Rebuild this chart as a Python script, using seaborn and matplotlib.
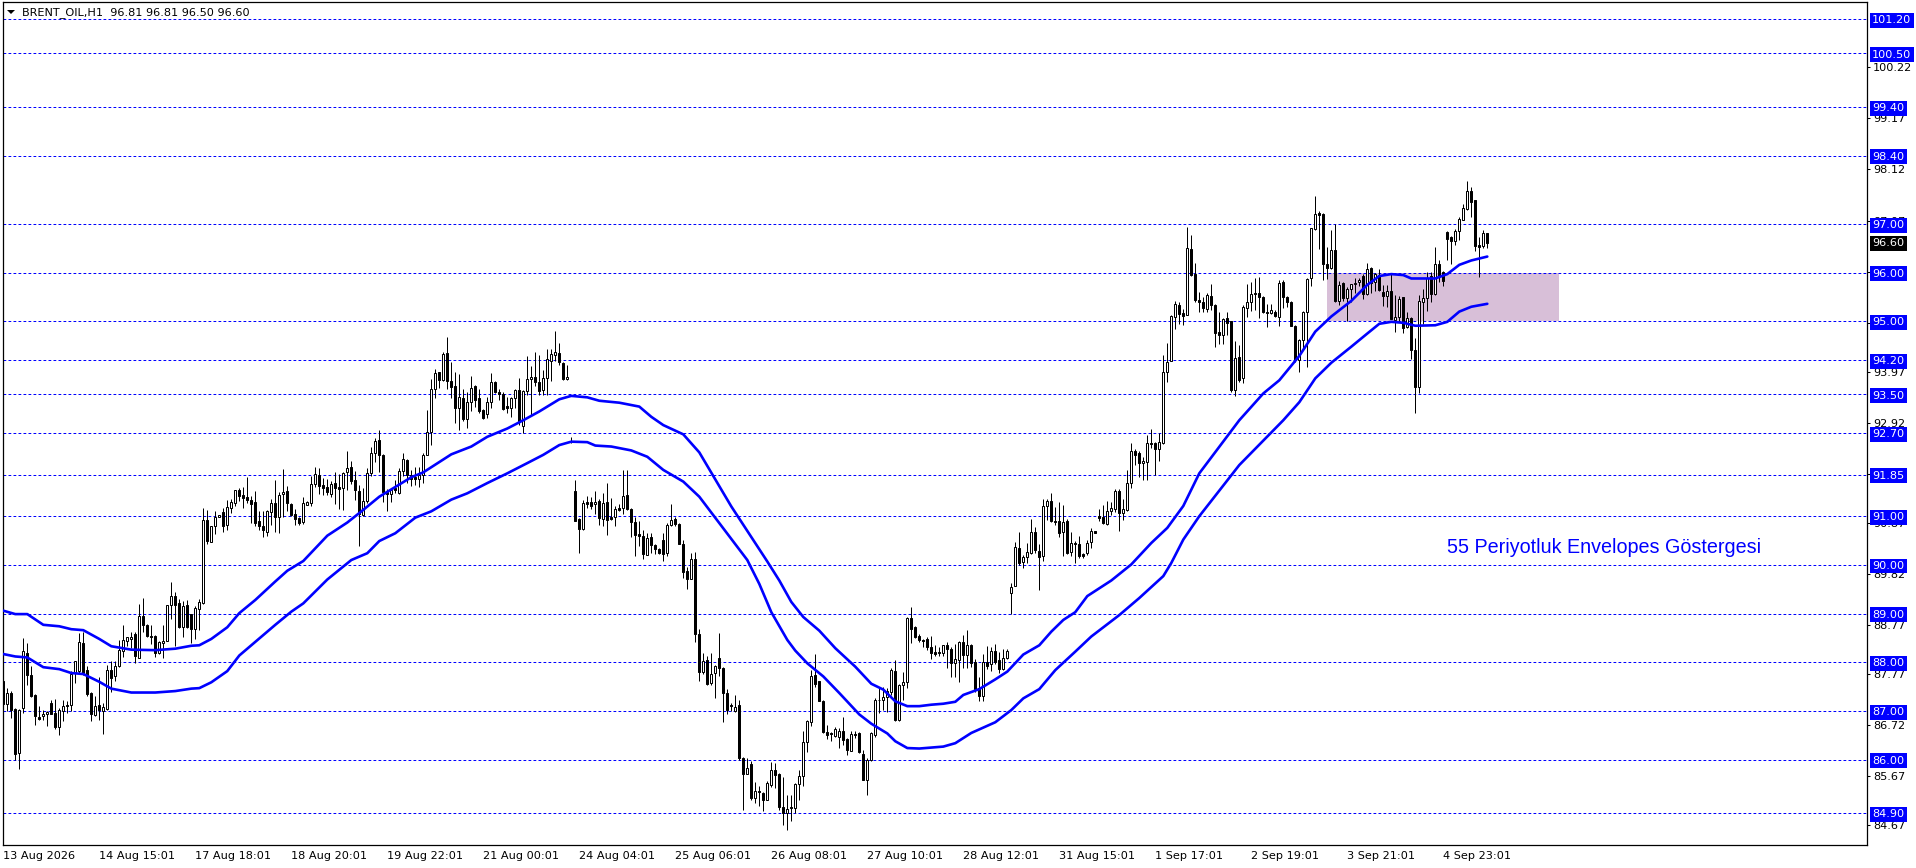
import matplotlib
matplotlib.use("Agg")
import matplotlib.pyplot as plt
from matplotlib.patches import Polygon
from matplotlib.transforms import IdentityTransform
import numpy as np
import pandas as pd
import seaborn as sns

opens = [
87.61,87.15,87.37,87.05,86.14,87.07,88.2,87.73,87.32,86.87,
86.89,86.93,87.17,86.96,86.68,87.0,87.12,87.12,87.78,87.82,
88.4,87.84,87.37,86.91,87.12,87.01,87.05,87.84,87.71,87.92,
88.24,88.43,88.48,88.58,88.09,88.96,88.77,88.55,88.55,88.2,
88.4,88.44,89.17,89.37,89.21,88.72,89.17,88.99,88.69,89.09,
89.22,90.92,90.48,90.79,90.98,91.08,90.82,91.16,91.27,91.53,
91.43,91.39,91.33,91.29,90.9,90.79,90.68,91.08,91.27,90.98,
91.45,91.51,91.25,91.04,90.96,90.89,91.24,91.27,91.67,91.84,
91.64,91.6,91.46,91.68,91.6,91.58,91.9,92.01,91.74,91.52,
91.03,91.31,91.88,92.29,92.57,92.26,91.5,91.45,91.58,91.47,
91.92,92.16,91.85,91.8,91.77,91.85,92.26,92.72,93.62,93.96,
93.79,94.36,93.77,93.67,93.23,93.43,92.99,93.34,93.67,93.42,
93.18,93.1,93.34,93.75,93.55,93.51,93.26,93.23,93.43,93.59,
92.86,93.58,93.82,93.85,93.75,93.59,93.83,94.19,94.3,94.36,
94.15,93.81,92.55,91.52,90.95,90.74,91.29,91.29,91.25,91.32,
90.95,91.29,90.98,90.98,91.17,91.16,91.44,91.15,90.88,90.64,
90.6,90.21,90.57,90.41,90.32,90.51,90.24,90.81,90.95,90.84,
90.43,89.88,89.72,90.12,88.59,87.8,88.04,87.58,87.78,88.08,
87.88,87.36,87.12,87.01,87.13,86.03,85.71,85.91,85.21,85.36,
85.32,85.17,85.49,85.78,85.71,85.03,84.9,85.02,85.01,85.51,
85.66,86.37,86.78,87.74,87.61,87.2,86.56,86.54,86.49,86.46,
86.6,86.42,86.18,86.52,86.55,86.11,85.58,86.0,86.5,87.22,
87.22,87.28,87.4,87.83,86.81,87.53,87.59,88.91,88.72,88.55,
88.46,88.48,88.32,88.21,88.21,88.19,88.35,88.27,87.98,88.04,
88.41,88.15,88.36,88.0,87.48,87.3,88.0,87.97,88.24,88.04,
87.87,88.08,89.42,89.56,90.35,90.05,90.16,90.25,90.68,90.29,
90.18,91.2,91.32,90.91,90.91,90.67,90.91,90.26,90.45,90.43,
90.23,90.25,90.47,90.7,91.0,90.99,90.84,91.1,91.15,91.51,
91.07,91.12,91.68,92.33,92.29,92.09,92.12,92.5,92.5,92.38,
92.5,93.97,94.19,95.08,95.34,95.18,95.14,96.48,95.97,95.43,
95.4,95.26,95.52,95.34,94.78,94.73,95.06,95.01,93.59,94.26,
93.83,95.27,95.39,95.58,95.58,95.49,95.2,95.18,95.2,95.08,
95.8,95.5,95.4,94.9,94.2,94.62,95.19,95.9,96.9,97.22,
97.21,96.18,96.1,96.46,95.41,95.78,95.47,95.67,95.76,95.8,
95.93,95.57,96.1,95.8,95.96,95.61,95.52,95.63,95.03,95.08,
95.49,94.88,95.06,94.42,93.66,95.4,95.47,95.93,95.57,96.17,
96.01,96.84,96.73,96.65,96.85,97.09,97.3,97.68,97.5,96.56,96.55,96.81]

highs = [
87.78,87.47,87.41,87.06,87.05,88.5,88.4,87.92,87.34,87.1,
87.03,87.0,87.22,87.24,87.06,87.22,87.2,87.82,88.03,88.6,
88.62,87.92,87.39,87.3,87.69,87.17,87.94,88.03,88.02,88.46,
88.76,88.53,88.63,88.63,89.19,89.33,88.78,88.76,88.57,88.44,
88.77,89.18,89.64,89.44,89.3,89.25,89.28,89.0,89.15,89.29,
91.16,91.13,90.8,91.1,91.03,91.16,91.34,91.36,91.54,91.58,
91.6,91.81,91.42,91.52,91.1,91.11,91.12,91.35,91.75,91.49,
91.97,91.62,91.27,91.14,90.99,91.39,91.32,91.82,92.01,91.99,
91.78,91.77,91.72,91.9,91.86,91.9,92.34,92.14,91.92,91.64,
91.58,91.99,92.43,92.6,92.77,92.27,91.55,91.58,91.75,91.99,
92.29,92.17,91.95,92.02,92.02,92.29,93.18,93.81,94.03,93.96,
94.37,94.67,94.17,93.96,93.91,93.62,93.55,93.88,93.69,93.62,
93.21,93.44,93.94,93.77,93.62,93.55,93.44,93.45,93.62,93.83,
93.59,94.28,94.09,94.38,94.31,94.0,94.43,94.44,94.8,94.56,
94.16,94.1,92.62,91.75,90.96,91.34,91.42,91.4,91.51,91.35,
91.47,91.68,91.37,91.21,91.25,91.94,91.95,91.16,90.99,90.9,
90.72,90.66,90.66,90.43,90.34,90.65,90.86,91.25,90.99,90.86,
90.51,89.95,90.24,90.26,88.69,88.2,88.14,88.19,87.95,88.6,
87.9,87.46,87.16,87.33,87.23,86.05,86.04,85.98,85.55,85.46,
85.34,85.57,85.95,85.93,85.73,85.64,85.27,85.27,85.52,85.78,
86.58,86.82,87.84,88.18,87.62,87.23,86.71,86.56,86.68,86.65,
86.87,86.45,86.58,86.58,86.57,86.19,86.03,86.57,87.26,87.47,
87.5,87.47,87.88,88.05,87.56,87.8,88.93,89.13,88.74,88.58,
88.47,88.53,88.54,88.36,88.32,88.36,88.42,88.32,88.38,88.43,
88.56,88.67,88.37,88.07,87.69,88.17,88.34,88.31,88.38,88.22,
88.27,88.28,89.62,90.47,90.68,90.21,90.44,90.95,90.78,90.42,
91.36,91.36,91.48,91.19,91.29,91.23,90.95,90.68,90.49,90.6,
90.25,90.52,90.76,90.7,91.14,91.23,91.32,91.29,91.55,91.56,
91.36,91.94,92.5,92.37,92.33,92.22,92.67,92.8,92.52,92.7,
94.31,94.55,95.13,95.41,95.39,95.26,96.94,96.78,96.2,95.6,
95.49,95.58,95.77,95.36,95.2,95.06,95.2,95.01,94.6,94.51,
95.33,95.77,95.81,95.88,95.91,95.52,95.36,95.35,95.24,95.85,
95.85,95.52,95.42,94.92,94.63,95.22,95.9,96.92,97.58,97.26,
97.22,96.53,96.88,97.0,95.82,95.81,95.7,95.77,95.89,95.89,
95.97,96.19,96.12,96.0,96.07,95.75,95.74,95.97,95.54,95.53,
95.51,95.2,95.08,94.65,95.54,95.66,96.01,96.02,96.52,96.26,
96.03,96.86,96.75,96.89,97.14,97.4,97.89,97.75,97.5,96.73,96.87,96.81]

lows = [
87.0,87.0,86.85,86.0,85.82,86.96,87.54,87.28,86.72,86.82,
86.82,86.7,86.93,86.64,86.5,86.79,86.95,87.0,87.58,87.76,
87.73,87.3,86.8,86.9,86.81,86.52,87.03,87.39,87.62,87.9,
88.1,88.33,88.29,87.99,88.08,88.63,88.53,88.38,88.1,88.17,
88.08,88.43,88.89,88.33,88.7,88.51,88.7,88.4,88.48,88.67,
89.2,90.43,90.48,90.64,90.98,90.68,90.72,91.06,91.2,91.32,
91.16,91.28,90.87,90.79,90.71,90.58,90.6,90.82,90.68,90.66,
90.99,91.1,91.01,90.81,90.82,90.84,91.22,91.2,91.59,91.46,
91.44,91.44,91.4,91.25,91.15,91.13,91.53,91.66,91.34,90.38,
91.01,91.27,91.82,92.12,91.9,91.3,91.1,91.3,91.47,91.46,
91.82,91.68,91.62,91.64,91.6,91.69,92.26,92.46,93.42,93.64,
93.78,93.62,93.42,92.91,92.77,92.95,92.81,93.15,93.25,93.12,
92.99,93.02,93.23,93.53,93.38,93.19,93.11,93.04,93.23,92.87,
92.7,93.49,93.08,93.67,93.49,93.49,93.49,93.78,94.19,94.11,
93.79,93.8,92.5,90.91,90.25,90.72,91.16,91.14,91.05,90.82,
90.79,90.62,90.92,90.79,91.1,91.05,91.13,90.58,90.19,90.38,
90.12,90.2,90.24,90.22,90.22,90.09,90.18,90.8,90.79,90.43,
89.73,89.5,89.72,88.42,87.62,87.77,87.54,87.54,87.26,87.71,
86.78,86.94,87.01,86.97,86.0,84.97,85.7,85.17,85.12,85.06,
84.95,85.17,85.45,85.41,84.97,84.66,84.56,84.74,84.9,85.18,
85.47,86.16,86.7,87.49,87.2,86.54,86.42,86.39,86.46,86.25,
86.3,86.09,86.17,86.45,86.13,85.58,85.28,85.97,86.46,86.96,
87.03,86.97,87.33,86.79,86.8,87.23,87.47,88.4,88.5,88.42,
88.32,88.26,88.06,88.12,88.12,88.12,87.89,87.69,87.69,87.59,
87.89,87.88,87.9,87.39,87.21,87.21,87.86,87.83,87.97,87.78,
87.85,88.06,88.99,89.56,89.99,89.93,90.04,90.23,90.25,89.49,
90.09,90.92,90.88,90.81,90.58,90.18,90.23,90.18,90.03,90.14,
90.14,90.21,90.35,90.66,90.91,90.83,90.82,91.03,91.08,90.69,
90.92,91.11,91.58,92.05,91.81,91.74,91.74,92.39,91.85,92.13,
92.49,93.76,94.18,94.84,94.94,94.92,95.14,95.93,95.4,95.2,
95.19,95.2,95.24,94.48,94.53,94.53,94.73,93.54,93.47,93.76,
93.74,95.08,95.22,95.24,95.07,95.17,94.89,95.16,95.08,94.9,
95.27,95.3,94.9,94.17,93.97,94.41,94.07,95.73,96.88,96.48,
95.85,95.87,96.08,95.4,95.34,95.41,95.0,95.39,95.58,95.72,
95.45,95.55,95.58,95.62,95.62,95.32,95.3,95.05,94.79,94.99,
94.77,94.87,94.22,93.11,93.53,94.95,95.22,95.39,95.55,95.8,
95.73,96.26,96.18,96.57,96.68,97.09,97.28,97.14,96.44,95.91,96.51,96.5]

closes = [
87.15,87.37,87.03,86.11,87.03,88.23,87.73,87.3,86.9,86.84,
86.93,86.98,86.94,86.67,87.03,87.1,87.1,87.76,88.02,88.41,
87.78,87.35,86.93,87.1,87.03,87.08,87.84,87.68,87.92,88.25,
88.46,88.51,88.53,88.12,88.96,88.77,88.54,88.52,88.2,88.42,
88.44,89.17,89.37,89.18,88.72,89.15,88.72,88.68,89.11,89.24,
90.92,90.5,90.8,90.99,91.03,90.79,91.18,91.29,91.53,91.42,
91.38,91.34,91.26,90.87,90.79,90.71,91.1,91.27,90.98,91.44,
91.49,91.27,91.03,90.94,90.87,91.27,91.29,91.66,91.86,91.61,
91.57,91.49,91.66,91.57,91.55,91.88,91.99,91.73,91.53,91.05,
91.31,91.88,92.29,92.54,92.25,91.49,91.45,91.54,91.53,91.92,
92.17,91.85,91.76,91.76,91.85,92.26,92.72,93.62,93.93,93.79,
94.34,93.77,93.66,93.23,93.44,93.0,93.34,93.64,93.38,93.15,
93.01,93.34,93.75,93.55,93.51,93.21,93.22,93.42,93.6,92.94,
93.58,93.81,93.86,93.76,93.57,93.83,94.22,94.32,94.38,94.16,
93.81,93.86,92.53,90.91,90.74,91.27,91.25,91.21,91.29,90.96,
91.28,90.92,90.95,91.15,91.13,91.42,91.14,90.88,90.62,90.6,
90.22,90.55,90.41,90.32,90.24,90.23,90.82,90.92,90.84,90.43,
89.85,89.72,90.12,88.59,87.8,88.03,87.56,87.76,87.92,87.88,
87.36,87.02,87.1,87.09,86.03,85.71,85.83,85.22,85.36,85.34,
85.17,85.52,85.79,85.69,85.03,84.9,84.99,85.01,85.51,85.67,
86.37,86.8,87.72,87.56,87.2,86.56,86.51,86.53,86.63,86.6,
86.4,86.2,86.52,86.5,86.15,85.58,86.0,86.55,87.22,87.23,
87.28,87.42,87.85,86.81,87.53,87.59,88.9,88.69,88.52,88.45,
88.43,88.32,88.2,88.18,88.19,88.35,88.28,87.98,88.06,88.41,
88.15,88.36,87.98,87.46,87.3,88.0,87.93,88.24,88.0,87.87,
88.08,88.23,89.55,90.37,90.04,90.16,90.26,90.68,90.3,90.16,
91.21,91.31,90.9,90.88,90.66,90.89,90.25,90.45,90.43,90.18,
90.19,90.45,90.7,90.66,90.96,90.85,91.11,91.17,91.52,91.07,
91.15,91.68,92.33,92.25,92.09,92.13,92.5,92.48,92.37,92.53,
93.97,94.17,95.11,95.35,95.16,95.11,96.5,95.95,95.44,95.4,
95.27,95.54,95.33,94.77,94.73,95.04,94.97,93.59,94.24,93.8,
95.3,95.39,95.56,95.56,95.5,95.19,95.17,95.23,95.1,95.78,
95.51,95.39,94.91,94.2,94.62,95.2,95.87,96.92,97.21,97.18,
96.17,96.1,96.46,95.42,95.75,95.48,95.67,95.76,95.79,95.85,
95.57,96.08,95.78,95.98,95.65,95.53,95.63,95.05,95.08,95.46,
94.87,95.06,94.42,93.66,95.42,95.47,95.9,95.56,96.17,95.93,
95.82,96.7,96.64,96.85,97.1,97.33,97.67,97.46,96.55,96.53,96.82,96.6]

upper_bars = [0,3,6,10,14,17,20,24,27,32,38,43,47,49,52,56,59,63,68,71,75,81,86,90,94,98,102,105,112,117,121,126,130,134,139,142,146,149,154,159,162,165,170,174,182,191,194,197,200,204,208,213,217,220,223,226,229,232,235,238,240,244,248,251,255,259,262,265,268,271,277,282,287,291,295,299,309,315,319,324,328,332,337,341,344,347,350,352,358,361,364,367,371]
upper_vals = [89.06,88.99,88.99,88.77,88.74,88.68,88.66,88.48,88.33,88.26,88.25,88.28,88.34,88.35,88.48,88.72,89.01,89.28,89.66,89.88,90.08,90.6,90.87,91.13,91.4,91.6,91.8,91.9,92.27,92.43,92.63,92.8,92.97,93.15,93.4,93.47,93.44,93.37,93.33,93.25,93.04,92.87,92.68,92.31,91.2,90.07,89.68,89.24,88.93,88.65,88.29,87.91,87.56,87.44,87.2,87.1,87.1,87.13,87.15,87.19,87.33,87.45,87.65,87.81,88.16,88.35,88.63,88.87,89.03,89.36,89.68,90.01,90.45,90.76,91.21,91.88,92.97,93.52,93.79,94.29,94.79,95.1,95.42,95.75,95.93,95.97,95.95,95.88,95.88,95.97,96.16,96.25,96.33]
lower_bars = [0,3,6,10,14,17,20,24,27,32,38,43,47,49,52,56,59,63,68,72,75,81,87,91,94,98,103,107,112,116,121,126,131,135,139,142,146,148,152,157,161,165,170,174,180,186,189,192,196,198,201,205,209,214,217,221,223,226,229,235,238,242,248,252,255,259,263,268,272,279,284,290,292,295,299,309,320,324,328,332,337,341,344,347,350,353,358,361,364,367,371]
lower_vals = [88.17,88.12,88.1,87.9,87.86,87.78,87.76,87.6,87.46,87.38,87.38,87.41,87.46,87.47,87.59,87.82,88.14,88.42,88.77,89.04,89.21,89.7,90.1,90.24,90.49,90.65,90.97,91.1,91.34,91.47,91.68,91.88,92.09,92.26,92.46,92.53,92.52,92.45,92.43,92.35,92.22,91.95,91.71,91.4,90.75,90.1,89.61,89.03,88.46,88.24,87.98,87.71,87.37,86.93,86.74,86.54,86.38,86.24,86.23,86.27,86.34,86.55,86.77,87.02,87.26,87.45,87.84,88.22,88.53,88.97,89.32,89.77,90.04,90.52,91.0,92.05,92.97,93.34,93.83,94.15,94.48,94.75,94.95,94.99,94.97,94.91,94.92,94.99,95.2,95.3,95.36]

level_lines = [101.20,100.50,99.40,98.40,97.00,96.00,95.00,94.20,93.50,92.70,91.85,91.00,90.00,89.00,88.00,87.00,86.00,84.90]
axis_ticks = [100.22,99.17,98.12,97.07,96.02,94.97,93.97,92.92,91.87,90.87,89.82,88.77,87.77,86.72,85.67,84.67]
time_labels = ["13 Aug 2026","14 Aug 15:01","17 Aug 18:01","18 Aug 20:01","19 Aug 22:01","21 Aug 00:01","24 Aug 04:01","25 Aug 06:01","26 Aug 08:01","27 Aug 10:01","28 Aug 12:01","31 Aug 15:01","1 Sep 17:01","2 Sep 19:01","3 Sep 21:01","4 Sep 23:01"]
time_bars = [i * 24 for i in range(len(time_labels))]
last_price = 96.60
zone_low, zone_high = 95.0, 96.0
zone_bars = (331, 389)
title = "BRENT_OIL,H1  96.81 96.81 96.50 96.60"
note = "55 Periyotluk Envelopes Göstergesi"

W, H = 1916, 868
sns.set_theme(style="white")
plt.rcParams["font.family"] = ["DejaVu Sans"]
plt.rcParams["lines.scale_dashes"] = False
fig = plt.figure(figsize=(W / 100, H / 100), dpi=100, facecolor="white")
ax = fig.add_axes([2.5 / W, (H - 844.5) / H, (1866.7 - 2.5) / W, (844.5 - 2.3) / H])
ax.set_xlim(-0.2, 465.85)
ax.set_ylim(84.26, 101.55)

o, h, l, c = map(np.array, (opens, highs, lows, closes))
x = np.arange(len(o))

ax.axhspan(zone_low, zone_high, xmin=(zone_bars[0] + 0.2) / 466.05, xmax=(zone_bars[1] + 0.2) / 466.05,
           facecolor="#D8BFD8", edgecolor="none", zorder=0.5)
for lv in level_lines:
    ax.axhline(lv, color="#0000FF", lw=0.72, ls=(0, (2.0, 1.6)), zorder=1)

ax.vlines(x, l, h, color="black", lw=0.72, zorder=2)
up = c >= o
ax.bar(x[up], (c - o)[up], bottom=o[up], width=0.5, facecolor="white", edgecolor="black", lw=0.72, zorder=3)
ax.bar(x[~up], (c - o)[~up], bottom=o[~up], width=0.5, facecolor="black", edgecolor="black", lw=0.72, zorder=3)

env_up = pd.DataFrame({"bar": upper_bars, "price": upper_vals})
env_lo = pd.DataFrame({"bar": lower_bars, "price": lower_vals})
sns.lineplot(data=env_up, x="bar", y="price", color="#0000FF", lw=1.9, ax=ax, zorder=4, errorbar=None)
sns.lineplot(data=env_lo, x="bar", y="price", color="#0000FF", lw=1.9, ax=ax, zorder=4, errorbar=None)

ax.set_xlabel("")
ax.set_ylabel("")
ax.yaxis.tick_right()
ax.set_yticks(axis_ticks)
ax.set_yticklabels([f"{v:.2f}" for v in axis_ticks])
ax.set_xticks(time_bars)
ax.set_xticklabels(time_labels, ha="left")
ax.tick_params(axis="y", direction="out", length=2.2, width=0.75, pad=2.2, labelsize=8.1, colors="black")
ax.tick_params(axis="x", direction="out", length=2.2, width=0.75, pad=2.2, labelsize=8.1, colors="black")
for s in ax.spines.values():
    s.set_linewidth(0.9)
    s.set_color("black")

ytr = ax.get_yaxis_transform()
for lv in level_lines:
    ax.annotate(f"{lv:.2f}", xy=(1, lv), xycoords=ytr, xytext=(3.9, -0.8), textcoords="offset points",
                va="center", ha="left", fontsize=8.1, color="white", annotation_clip=False, zorder=10,
                bbox=dict(boxstyle="square,pad=0.22", fc="#0000FF", ec="none"))
ax.annotate(f"{last_price:.2f}", xy=(1, last_price), xycoords=ytr, xytext=(3.9, 0), textcoords="offset points",
            va="center", ha="left", fontsize=8.1, color="white", annotation_clip=False, zorder=11,
            bbox=dict(boxstyle="square,pad=0.22", fc="black", ec="none"))

fig.text(21.5 / W, 1 - 12.5 / H, title, fontsize=8.1, color="black", va="center", ha="left")
fig.add_artist(Polygon([(7, H - 10), (15, H - 10), (11, H - 14)], closed=True, fc="black", ec="none",
                       transform=IdentityTransform()))
ax.text(361, 90.24, note, color="#0000FF", fontsize=14.2, family=["Liberation Sans"], va="baseline", ha="left", zorder=6)

fig.savefig("out.png", dpi=100, facecolor="white")
